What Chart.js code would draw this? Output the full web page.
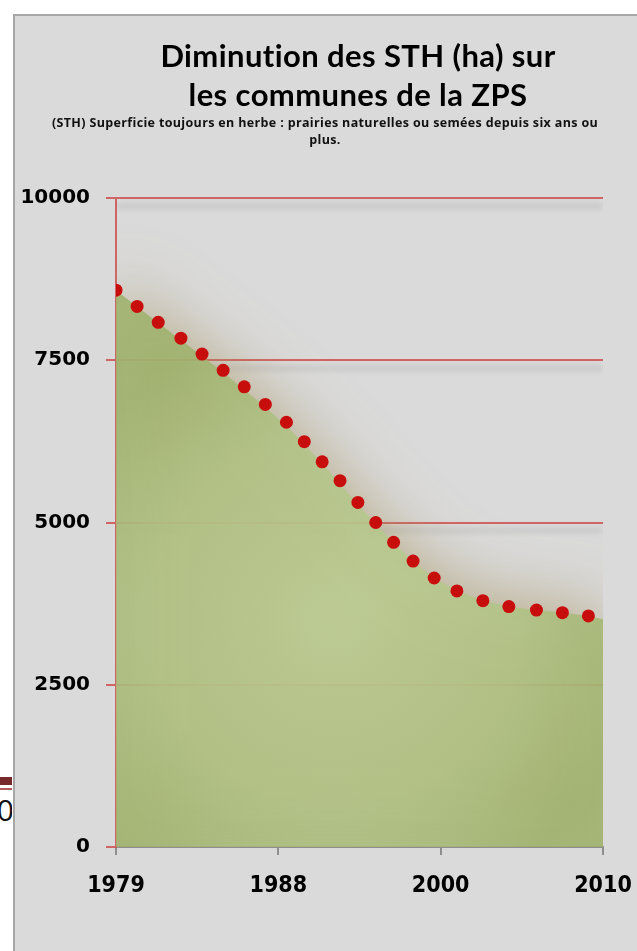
<!DOCTYPE html>
<html lang="fr">
<head>
<meta charset="utf-8">
<title>Diminution des STH (ha) sur les communes de la ZPS</title>
<script src="https://cdn.jsdelivr.net/npm/chart.js@4.4.1/dist/chart.umd.min.js"></script>
<style>
  html, body { margin: 0; padding: 0; background: #fff; }
  body { width: 637px; height: 951px; position: relative; overflow: hidden; }
  #frame {
    position: absolute; left: 13px; top: 14px; width: 640px; height: 950px;
    background: #dadada; border-left: 2px solid #a7a7a7; border-top: 2px solid #a7a7a7;
  }
  #chartBox { position: absolute; left: 0; top: 0; width: 637px; height: 951px; }
  .title {
    position: absolute; left: 108px; width: 500px; top: 36px;
    text-align: center; font: 700 31px 'Lato', sans-serif; letter-spacing: 0.4px;
    line-height: 39px; color: #000;
  }
  .subtitle {
    position: absolute; left: 0; width: 650px; top: 114px;
    text-align: center; font: 700 12.5px 'Open Sans', sans-serif; letter-spacing: 0.35px;
    line-height: 17px; color: #111;
  }
  .stray-bar { position: absolute; left: 0; top: 777px; width: 12px; height: 8px; background: #76282b; }
  .stray-line { position: absolute; left: 0; top: 788px; width: 12px; height: 2px; background: #b55a5a; }
  .stray-label {
    position: absolute; left: 0; top: 793px; width: 12px; height: 34px; overflow: hidden;
    font: 400 30px 'Open Sans', sans-serif; line-height: 34px; color: #111;
  }
  .stray-label span { position: absolute; right: -2px; top: 0; }
</style>
</head>
<body>
<div id="frame"></div>
<div class="stray-bar"></div>
<div class="stray-line"></div>
<div class="stray-label"><span>0</span></div>
<div id="chartBox"><canvas id="sthChart"></canvas></div>
<div class="title">Diminution des STH (ha) sur<br>les communes de la ZPS</div>
<div class="subtitle">(STH) Superficie toujours en herbe : prairies naturelles ou semées depuis six ans ou<br>plus.</div>

<script>
const yearLabels = ['1979', '1988', '2000', '2010'];
const yearPositions = [0, 1, 2, 3];

// surface verte (STH en ha) aux années de recensement
const areaValues = [8580, 6600, 4090, 3510];

// points rouges, position le long de l'axe des années (0 = 1979, 3 = 2010)
const dotPositions = [0, 0.13, 0.26, 0.40, 0.53, 0.66, 0.79, 0.92, 1.05, 1.16, 1.27, 1.38,
  1.49, 1.60, 1.71, 1.83, 1.96, 2.10, 2.26, 2.42, 2.59, 2.75, 2.91];
const dotValues = [8580, 8330, 8085, 7840, 7595, 7345, 7090, 6820, 6545, 6245, 5935, 5645,
  5310, 5000, 4695, 4405, 4145, 3945, 3795, 3705, 3650, 3610, 3560];

const yTicks = [0, 2500, 5000, 7500, 10000];

const gridRed = 'rgba(206, 88, 88, 0.9)';
const axisGray = '#8e8e8e';

function areaFill(context) {
  const { ctx, chartArea } = context.chart;
  if (!chartArea) return 'rgba(172, 190, 130, 0.86)';
  const cx = chartArea.left + (chartArea.right - chartArea.left) * 0.45;
  const cy = chartArea.top + (chartArea.bottom - chartArea.top) * 0.65;
  const g = ctx.createRadialGradient(cx, cy, 10, cx, cy, (chartArea.right - chartArea.left) * 0.62);
  g.addColorStop(0, 'rgba(188, 206, 148, 0.86)');
  g.addColorStop(0.6, 'rgba(176, 195, 132, 0.86)');
  g.addColorStop(1, 'rgba(158, 178, 108, 0.88)');
  return g;
}

// ombres douces sous les lignes de grille et au-dessus de la courbe
const softShadows = {
  id: 'softShadows',
  beforeDatasetsDraw(chart) {
    const { ctx, chartArea: a, scales } = chart;
    const off = 3000;
    ctx.save();
    ctx.beginPath();
    ctx.rect(a.left, a.top - 30, a.right - a.left, a.bottom - a.top + 30);
    ctx.clip();

    ctx.shadowColor = 'rgba(0, 0, 0, 0.16)';
    ctx.shadowBlur = 6;
    ctx.shadowOffsetX = off;
    ctx.shadowOffsetY = 8;
    ctx.strokeStyle = '#000';
    ctx.lineWidth = 3;
    yTicks.filter((v) => v > 2500).forEach((v) => {
      const py = scales.y.getPixelForValue(v);
      ctx.beginPath();
      ctx.moveTo(a.left - off, py);
      ctx.lineTo(a.right - off, py);
      ctx.stroke();
    });

    const line = chart.getDatasetMeta(0).dataset;
    line.updateControlPoints(a, 'x');
    ctx.shadowColor = 'rgba(165, 145, 90, 0.6)';
    ctx.shadowBlur = 60;
    ctx.shadowOffsetY = -8;
    ctx.translate(-off, 0);
    ctx.beginPath();
    line.path(ctx);
    ctx.lineTo(a.right, a.bottom);
    ctx.lineTo(a.left, a.bottom);
    ctx.closePath();
    ctx.fillStyle = '#000';
    ctx.fill();
    ctx.restore();
  }
};

new Chart(document.getElementById('sthChart'), {
  type: 'line',
  data: {
    datasets: [
      {
        label: 'STH (ha)',
        data: yearPositions.map((x, i) => ({ x, y: areaValues[i] })),
        fill: 'origin',
        backgroundColor: areaFill,
        borderWidth: 0,
        pointRadius: 0,
        cubicInterpolationMode: 'monotone',
        order: 2
      },
      {
        label: 'Points',
        data: dotPositions.map((x, i) => ({ x, y: dotValues[i] })),
        showLine: false,
        pointRadius: 6.5,
        pointBorderWidth: 0,
        pointBackgroundColor: '#c80d0d',
        order: 1
      }
    ]
  },
  options: {
    responsive: true,
    maintainAspectRatio: false,
    animation: false,
    layout: { padding: { top: 198, right: 34, left: 0, bottom: 0 } },
    plugins: {
      legend: { display: false },
      tooltip: { enabled: false }
    },
    scales: {
      x: {
        type: 'linear',
        min: 0,
        max: 3,
        afterFit(scale) {
          scale.height = 104;
          scale.paddingLeft = 0;
          scale.paddingRight = 0;
        },
        afterBuildTicks(scale) { scale.ticks = yearPositions.map((value) => ({ value })); },
        border: { color: axisGray, width: 2 },
        grid: { drawOnChartArea: false, drawTicks: true, tickLength: 8, color: axisGray, lineWidth: 2 },
        ticks: {
          padding: 17,
          color: '#000',
          font: { family: 'DejaVu Sans Condensed', weight: 'bold', size: 23 },
          callback(value) { return yearLabels[value]; }
        }
      },
      y: {
        min: 0,
        max: 10000,
        afterFit(scale) { scale.width = 116; },
        afterBuildTicks(scale) { scale.ticks = yTicks.map((value) => ({ value })); },
        border: { color: gridRed, width: 2 },
        grid: { color: gridRed, lineWidth: 2, tickLength: 10 },
        ticks: {
          padding: 16,
          color: '#000',
          font: { family: 'DejaVu Sans', weight: 'bold', size: 20 },
          callback(value) { return String(value); }
        }
      }
    }
  },
  plugins: [softShadows]
});
</script>
</body>
</html>
